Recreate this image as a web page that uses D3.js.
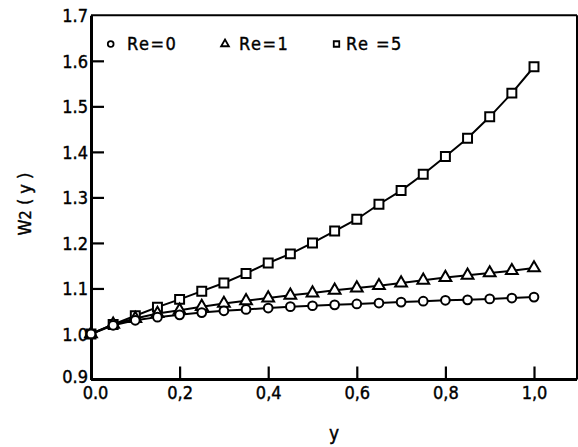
<!DOCTYPE html>
<html><head><meta charset="utf-8">
<script src="https://cdn.jsdelivr.net/npm/d3@7"></script>
<style>
html,body{margin:0;padding:0;background:#fff;}
svg{display:block;}
text{font-family:"DejaVu Sans Condensed","Liberation Sans Narrow","DejaVu Sans",sans-serif;fill:#000;stroke:#000;stroke-width:0.4px;}
</style></head>
<body>
<svg id="c" width="578" height="447"></svg>
<script>
const xs = [0,0.05,0.1,0.15,0.2,0.25,0.3,0.35,0.4,0.45,0.5,0.55,0.6,0.65,0.7,0.75,0.8,0.85,0.9,0.95,1.0];
const re0 = [1.0,1.019,1.030,1.037,1.042,1.047,1.051,1.054,1.057,1.060,1.062,1.064,1.066,1.068,1.070,1.072,1.074,1.075,1.077,1.079,1.081];
const re1 = [1.0,1.021,1.034,1.045,1.052,1.060,1.067,1.073,1.079,1.085,1.090,1.096,1.101,1.106,1.112,1.118,1.124,1.129,1.134,1.139,1.145];
const re5 = [1.0,1.021,1.040,1.059,1.076,1.094,1.112,1.133,1.156,1.176,1.200,1.226,1.252,1.285,1.315,1.351,1.390,1.430,1.477,1.529,1.587];
const seriesNames = ["Re=0","Re=1","Re =5"];
const yTicks = [0.9,1.0,1.1,1.2,1.3,1.4,1.5,1.6,1.7];
const yTickLabels = ["0.9","1.0","1.1","1.2","1.3","1.4","1.5","1.6","1.7"];
const xTicks = [0,0.2,0.4,0.6,0.8,1.0];
const xTickLabels = ["0.0","0,2","0,4","0,6","0,8","1,0"];

const svg = d3.select("#c");
const x = d3.scaleLinear().domain([0,1.1]).range([91,578.3]);
const y = d3.scaleLinear().domain([0.9,1.7]).range([379.5,15.3]);
const x0 = x(0), x1 = 577, y0 = y(0.9), y1 = y(1.7);

// frame
svg.append("line").attr("x1",x0).attr("x2",x1).attr("y1",y1).attr("y2",y1).attr("stroke","#000").attr("stroke-width",2);
svg.append("line").attr("x1",x1).attr("x2",x1).attr("y1",y1).attr("y2",y0).attr("stroke","#000").attr("stroke-width",2);

// y axis
const ya = d3.axisLeft(y).tickValues(yTicks).tickFormat((d,i)=>yTickLabels[i]).tickSizeInner(-13).tickSizeOuter(0).tickPadding(5);
const gy = svg.append("g").attr("transform",`translate(${x0},0)`).call(ya);
gy.select(".domain").attr("stroke","#000").attr("stroke-width",3);
gy.selectAll(".tick line").attr("stroke","#000").attr("stroke-width",2.2).filter(d=>d===0.9||d===1.0||d===1.7).remove();
gy.selectAll(".tick text").attr("font-size",18).attr("x",-3).attr("dy",d=>d===0.9?"0.15em":"0.36em");

// x axis
const xa = d3.axisBottom(x).tickValues(xTicks).tickFormat((d,i)=>xTickLabels[i]).tickSizeInner(-13).tickSizeOuter(0).tickPadding(6);
const gx = svg.append("g").attr("transform",`translate(0,${y0})`).call(xa);
gx.select(".domain").attr("d",`M${x0},0H${x1}`).attr("stroke","#000").attr("stroke-width",3);
gx.selectAll(".tick line").attr("stroke","#000").attr("stroke-width",2.2).filter(d=>d===0).remove();
gx.selectAll(".tick text").attr("font-size",18).attr("y",7).attr("dy","0.71em").attr("dx",(d)=>d===0?4:0);

// axis titles
svg.append("text").attr("x",(x0+x1)/2).attr("y",440).attr("text-anchor","middle").attr("font-size",19).text("y");
const yl = svg.append("text").attr("transform","translate(31,204) rotate(-90)").attr("text-anchor","middle").attr("font-size",18);
yl.append("tspan").text("W");
yl.append("tspan").attr("font-size",16).text("2");
yl.append("tspan").text(" ( y )");

// lines and markers
const line = d3.line().x((d,i)=>x(xs[i])).y(d=>y(d));
const data = [re0,re1,re5];
data.forEach(s=>{
  svg.append("path").attr("d",line(s)).attr("fill","none").attr("stroke","#000").attr("stroke-width",2);
});
const shapes = [d3.symbolCircle,d3.symbolTriangle,d3.symbolSquare];
const sizes = [60,60,80];
[2,1,0].forEach(k=>{
  const sym = d3.symbol().type(shapes[k]).size(sizes[k]);
  svg.append("g").selectAll("path").data(data[k]).join("path")
    .attr("transform",(d,i)=>`translate(${x(xs[i])},${y(d)})`)
    .attr("d",sym).attr("fill","#fff").attr("stroke","#000").attr("stroke-width",2);
});

// legend
const legX = [110.7,225,336.5], legTX = [127,239,346];
seriesNames.forEach((n,k)=>{
  const sym = d3.symbol().type(shapes[k]).size(k===2?30:26);
  svg.append("path").attr("transform",`translate(${legX[k]},${44})`).attr("d",sym).attr("fill","#fff").attr("stroke","#000").attr("stroke-width",1.8);
  svg.append("text").attr("x",legTX[k]).attr("y",50).attr("font-size",18).attr("letter-spacing",1.5).text(n);
});
</script>
</body></html>
